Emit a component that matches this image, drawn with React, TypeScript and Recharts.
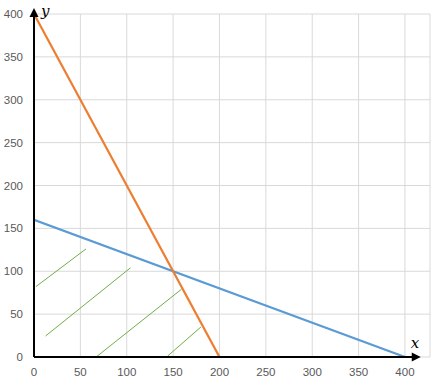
import { LineChart, Line, XAxis, YAxis, CartesianGrid, ReferenceLine } from "recharts";

const xTicks = [0, 50, 100, 150, 200, 250, 300, 350, 400];
const yTicks = [0, 50, 100, 150, 200, 250, 300, 350, 400];

// constraint lines
const orangeLine = [
  { x: 0, y: 400 },
  { x: 200, y: 0 },
];
const blueLine = [
  { x: 0, y: 160 },
  { x: 400, y: 0 },
];

// hatching strokes
const hatch1 = [
  { x: 2, y: 82 },
  { x: 56, y: 126 },
];
const hatch2 = [
  { x: 12.5, y: 24.5 },
  { x: 104, y: 104 },
];
const hatch3 = [
  { x: 67, y: 0 },
  { x: 159, y: 79 },
];
const hatch4 = [
  { x: 144, y: 1 },
  { x: 180, y: 35 },
];
const hatches = [hatch1, hatch2, hatch3, hatch4];

const tickStyle = { fill: "#595959", fontSize: 11.5, fontFamily: "'Liberation Sans', Arial, sans-serif" };

const ArrowX = (p: any) => {
  const { x1, y1, x2 } = p;
  return (
    <g>
      <line x1={x1} y1={y1} x2={x2 - 8} y2={y1} stroke="#000" strokeWidth={2} />
      <polygon points={`${x2},${y1} ${x2 - 9},${y1 - 4.5} ${x2 - 9},${y1 + 4.5}`} fill="#000" />
      <text x={x2 - 10} y={y1 - 9} fontFamily="'DejaVu Serif', serif" fontStyle="italic" fontSize={15} fill="#000">
        x
      </text>
    </g>
  );
};

const ArrowY = (p: any) => {
  const { x1, y1, y2 } = p;
  return (
    <g>
      <line x1={x1} y1={y1} x2={x1} y2={y2 + 8} stroke="#000" strokeWidth={2} />
      <polygon points={`${x1},${y2} ${x1 - 4.5},${y2 + 9} ${x1 + 4.5},${y2 + 9}`} fill="#000" />
      <text x={x1 + 7} y={y2 + 8} fontFamily="'DejaVu Serif', serif" fontStyle="italic" fontSize={15} fill="#000">
        y
      </text>
    </g>
  );
};

export default function App() {
  return (
    <div>
      <style>{`body{margin:0}`}</style>
      <LineChart width={431} height={390} margin={{ top: 14, right: 1, bottom: 3, left: 0 }}>
        <CartesianGrid stroke="#d9d9d9" vertical horizontal />
        <XAxis
          type="number"
          dataKey="x"
          domain={[0, 427]}
          ticks={xTicks}
          allowDataOverflow
          axisLine={false}
          tickLine={false}
          tickSize={8}
          tickMargin={3}
          height={30}
          tick={tickStyle}
        />
        <YAxis
          type="number"
          dataKey="y"
          domain={[0, 400]}
          ticks={yTicks}
          axisLine={false}
          tickLine={false}
          tickSize={8}
          tickMargin={3}
          width={34}
          tick={tickStyle}
        />
        {hatches.map((h, i) => (
          <Line
            key={i}
            data={h}
            dataKey="y"
            stroke="#70ad47"
            strokeWidth={1}
            dot={false}
            isAnimationActive={false}
          />
        ))}
        <Line data={blueLine} dataKey="y" stroke="#5b9bd5" strokeWidth={2.25} dot={false} isAnimationActive={false} />
        <Line data={orangeLine} dataKey="y" stroke="#ed7d31" strokeWidth={2.25} dot={false} isAnimationActive={false} />
        <ReferenceLine
          segment={[
            { x: 0, y: 0 },
            { x: 417, y: 0 },
          ]}
          ifOverflow="visible"
          shape={ArrowX}
        />
        <ReferenceLine
          segment={[
            { x: 0, y: 0 },
            { x: 0, y: 407 },
          ]}
          ifOverflow="visible"
          shape={ArrowY}
        />
      </LineChart>
    </div>
  );
}
